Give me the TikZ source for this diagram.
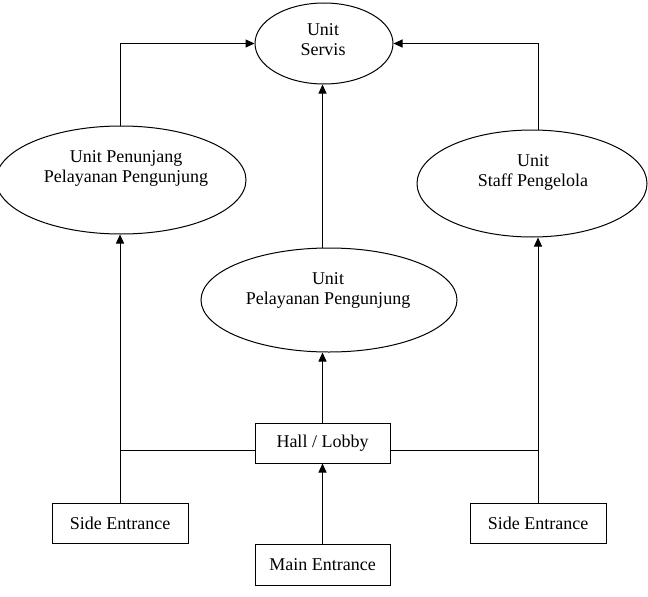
\documentclass[tikz,border=0pt]{standalone}
\usepackage{fontspec}
\setmainfont{Liberation Serif}
\usetikzlibrary{arrows.meta,shapes.geometric}
\tikzset{
  unit/.style={draw, ellipse, line width=1pt, inner sep=0pt},
  lbl/.style={align=center, inner sep=0pt, font=\fontsize{18}{20}\selectfont},
  box/.style={draw, rectangle, line width=1pt, inner sep=0pt, font=\fontsize{18}{20}\selectfont},
  conn/.style={line width=1pt},
  arr/.style={line width=1pt, -{Triangle[length=9pt,width=8pt]}}
}
\begin{document}
\begin{tikzpicture}[x=1pt,y=-1pt]
\useasboundingbox (0,0) rectangle (648,597);
% ellipses
\node[unit, minimum width=138, minimum height=81] (servis) at (324,43.5) {};
\node[unit, minimum width=250, minimum height=108] (penunjang) at (121,180) {};
\node[unit, minimum width=230, minimum height=107] (staff) at (532,183.5) {};
\node[unit, minimum width=256, minimum height=104] (pelayanan) at (329,300) {};
% ellipse texts
\node[lbl] (servisT) at (323,40) {Unit\\Servis};
\node[lbl] (penunjangT) at (126,168.8) {Unit Penunjang\\Pelayanan Pengunjung};
\node[lbl] (staffT) at (533,172.8) {Unit\\Staff Pengelola};
\node[lbl] (pelayananT) at (328,290.8) {Unit\\Pelayanan Pengunjung};
% boxes
\node[box, minimum width=135, minimum height=40] (hall) at (322.5,443) {Hall / Lobby};
\node[box, minimum width=136, minimum height=40] (sideL) at (120,523) {Side Entrance};
\node[box, minimum width=136, minimum height=40] (sideR) at (538,523) {Side Entrance};
\node[box, minimum width=135, minimum height=41] (main) at (322.5,564.5) {Main Entrance};
% junctions
\coordinate (jL) at (120,450);
\coordinate (jR) at (538,450);
% connectors
\draw[arr] (penunjang.north -| sideL.north) |- (servis.west);
\draw[arr] (staff.north -| sideR.north) |- (servis.east);
\draw[arr] (pelayanan.north -| hall.north) -- (servis.south -| hall.north);
\draw[arr] (hall.north) -- (pelayanan.south -| hall.north);
\draw[arr] (main.north) -- (hall.south);
\draw[arr] (sideL.north) -- (penunjang.south -| sideL.north);
\draw[arr] (sideR.north) -- (staff.south -| sideR.north);
\draw[conn] (jL) -- (jL -| hall.west);
\draw[conn] (jR) -- (jR -| hall.east);
\end{tikzpicture}
\end{document}
